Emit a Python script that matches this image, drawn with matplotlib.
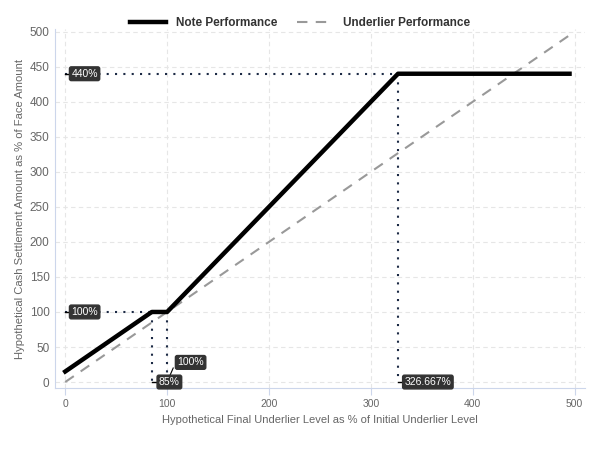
import matplotlib.pyplot as plt

plt.rcParams['font.family'] = ['Liberation Sans', 'DejaVu Sans']

# payoff profile (underlier level %, cash settlement %)
note_x = [0, 85, 100, 326.667, 495]
note_y = [15, 100, 100, 440, 440]
under_x = [0, 500]
under_y = [0, 500]

fig = plt.figure(figsize=(6, 4.5), dpi=100)
ax = fig.add_axes([0.0917, 0.1378, 0.883, 0.798])

ax.plot(note_x, note_y, color='black', lw=3.2, label='Note Performance', zorder=4)
ax.plot(under_x, under_y, color='#999999', lw=1.5, ls=(0, (5, 4)), label='Underlier Performance', zorder=3)

dot = dict(color='#1c2a45', lw=1.5, ls=(0, (1, 3)), zorder=2)
ax.plot([0, 326.667], [440, 440], **dot)
ax.plot([326.667, 326.667], [440, 0], **dot)
ax.plot([0, 85], [100, 100], **dot)
ax.plot([85, 85], [100, 0], **dot)
ax.plot([100, 100], [100, 0], **dot)

box = dict(boxstyle='round,pad=0.18', fc='#333333', ec='#333333')
lab = dict(color='white', fontsize=7.5, va='center', ha='left', bbox=box, zorder=6)
ax.text(6, 440, '440%', **lab)
ax.text(6, 100, '100%', **lab)
ax.text(92, 0, '85%', **lab)
ax.text(110, 28, '100%', **lab)
ax.text(333, 0, '326.667%', **lab)
ax.plot([0, 5], [440, 440], color='black', lw=1, zorder=5)
ax.plot([0, 5], [100, 100], color='black', lw=1, zorder=5)
ax.plot([85, 91], [0, 0], color='black', lw=1, zorder=5)
ax.plot([326.667, 332], [0, 0], color='black', lw=1, zorder=5)
ax.plot([100, 106], [0, 20], color='black', lw=0.8, zorder=5)

ax.set_xlim(-10, 510)
ax.set_ylim(-8.5, 504)
ax.set_xticks(range(0, 501, 100))
ax.set_yticks(range(0, 501, 50))
ax.grid(True, color='#e6e6e6', ls=(0, (4, 3)), lw=0.8)
ax.set_axisbelow(True)
for s in ['top', 'right']:
    ax.spines[s].set_visible(False)
for s in ['left', 'bottom']:
    ax.spines[s].set_color('#ccd6eb')
ax.tick_params(axis='x', colors='#ccd6eb', labelcolor='#666666', labelsize=7.5, length=5, pad=3)
ax.tick_params(axis='y', labelcolor='#666666', labelsize=8.5, length=0, pad=4)
ax.set_xlabel('Hypothetical Final Underlier Level as % of Initial Underlier Level',
              fontsize=8, color='#666666', labelpad=4)
ax.set_ylabel('Hypothetical Cash Settlement Amount as % of Face Amount',
              fontsize=8.1, color='#666666', labelpad=3)

leg = fig.legend(loc='upper center', bbox_to_anchor=(0.5, 0.985), ncol=2, frameon=False,
                 prop={'weight': 'bold', 'size': 8.5}, handlelength=3.1, columnspacing=1.7)
for t in leg.get_texts():
    t.set_color('#333333')

fig.savefig('out.png', dpi=100)
